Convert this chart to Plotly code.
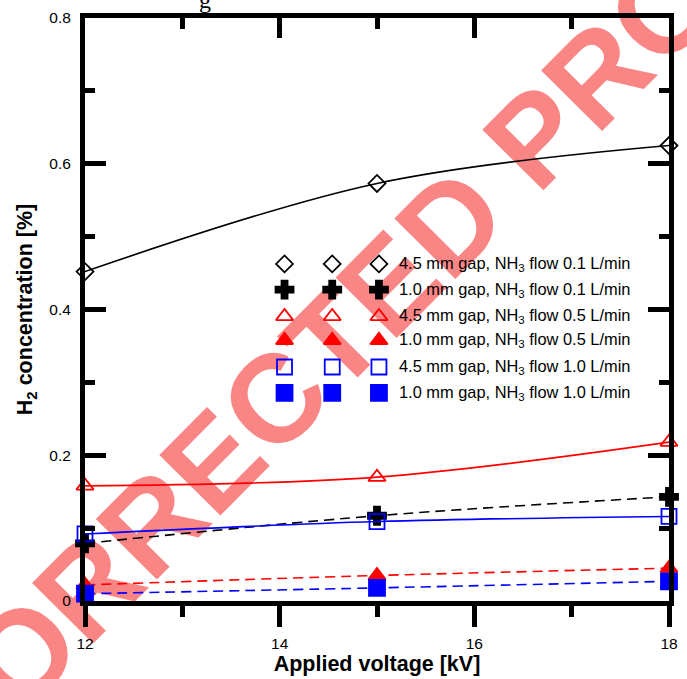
import plotly.graph_objects as go

# ---- data ----
voltage = [12, 15, 18]
h2_45_01 = [0.452, 0.573, 0.625]   # 4.5 mm gap, NH3 0.1 L/min
h2_10_01 = [0.079, 0.117, 0.143]   # 1.0 mm gap, NH3 0.1 L/min
h2_45_05 = [0.158, 0.170, 0.218]   # 4.5 mm gap, NH3 0.5 L/min
h2_10_05 = [0.022, 0.035, 0.045]   # 1.0 mm gap, NH3 0.5 L/min
h2_45_10 = [0.092, 0.109, 0.116]   # 4.5 mm gap, NH3 1.0 L/min
h2_10_10 = [0.010, 0.018, 0.027]   # 1.0 mm gap, NH3 1.0 L/min

labels = [
    "4.5 mm gap, NH<sub>3</sub> flow 0.1 L/min",
    "1.0 mm gap, NH<sub>3</sub> flow 0.1 L/min",
    "4.5 mm gap, NH<sub>3</sub> flow 0.5 L/min",
    "1.0 mm gap, NH<sub>3</sub> flow 0.5 L/min",
    "4.5 mm gap, NH<sub>3</sub> flow 1.0 L/min",
    "1.0 mm gap, NH<sub>3</sub> flow 1.0 L/min",
]
series = [h2_45_01, h2_10_01, h2_45_05, h2_10_05, h2_45_10, h2_10_10]
symbols = ["diamond-open", "cross", "triangle-up-open", "triangle-up", "square-open", "square"]
sizes = [13, 15, 15, 15, 15, 16]
colors = ["#000000", "#000000", "#ff0000", "#ff0000", "#0000ff", "#0000ff"]
dashes = ["solid", "10px,6px", "solid", "10px,6px", "solid", "10px,6px"]

# legend sample positions (data units) and row heights
legend_x = [14.05, 14.54, 15.02]
legend_text_x = 15.21
legend_rows = [0.4626, 0.4272, 0.3905, 0.3578, 0.3211, 0.2857]

FONT = "Liberation Sans, Arial, sans-serif"

fig = go.Figure()

for ys, sym, sz, col, dsh in zip(series, symbols, sizes, colors, dashes):
    fig.add_trace(go.Scatter(
        x=voltage, y=ys, mode="lines+markers",
        line=dict(color=col, width=1.6, dash=dsh, shape="spline", smoothing=1),
        marker=dict(symbol=sym, size=sz, color=col, line=dict(color=col, width=1.8)),
        cliponaxis=False, showlegend=False, hoverinfo="skip"))

# in-plot legend (three samples per row)
for row_y, sym, sz, col, lab in zip(legend_rows, symbols, sizes, colors, labels):
    fig.add_trace(go.Scatter(
        x=legend_x, y=[row_y] * 3, mode="markers",
        marker=dict(symbol=sym, size=sz, color=col, line=dict(color=col, width=1.8)),
        cliponaxis=False, showlegend=False, hoverinfo="skip"))
    fig.add_annotation(x=legend_text_x, y=row_y, xref="x", yref="y", text=lab,
                       showarrow=False, xanchor="left", yanchor="middle",
                       font=dict(family=FONT, size=16.4, color="black"))

# invisible trace for the top axis
fig.add_trace(go.Scatter(x=[12, 18], y=[0, 0], xaxis="x2", yaxis="y", mode="markers",
                         marker=dict(opacity=0), showlegend=False, hoverinfo="skip"))

axis_common = dict(showgrid=False, zeroline=False, showline=True, linecolor="black",
                   linewidth=5, tickcolor="black", tickwidth=4.5,
                   tickfont=dict(family=FONT, size=15.5, color="black"))

wm_x, wm_y, wm_d = 0.477, 0.529, 0.1
fig.update_layout(
    width=687, height=679,
    margin=dict(l=85, r=9, t=15, b=76),
    paper_bgcolor="white", plot_bgcolor="rgba(0,0,0,0)",
    xaxis=dict(range=[12, 18], tickvals=[12, 14, 16, 18], ticks="outside", ticklen=21,
               ticklabelstandoff=3,
               minor=dict(tickvals=[13, 15, 17], ticks="outside", ticklen=11,
                          tickwidth=4.5, tickcolor="black"),
               title=dict(text="<b>Applied voltage [kV]</b>", standoff=3,
                          font=dict(family=FONT, size=21.5, color="black")),
               **axis_common),
    xaxis2=dict(range=[12, 18], overlaying="x", side="top", tickvals=[12, 14, 16, 18],
                ticks="inside", ticklen=20, showticklabels=False,
                minor=dict(tickvals=[13, 15, 17], ticks="inside", ticklen=11,
                           tickwidth=4.5, tickcolor="black"),
                **axis_common),
    yaxis=dict(range=[0, 0.8], tickvals=[0, 0.2, 0.4, 0.6, 0.8], ticks="inside", ticklen=21,
               mirror="ticks", ticklabelstandoff=6,
               minor=dict(tickvals=[0.1, 0.3, 0.5, 0.7], ticks="inside", ticklen=10,
                          tickwidth=4.5, tickcolor="black"),
               title=dict(text="<b>H<sub>2</sub> concentration [%]</b>", standoff=12,
                          font=dict(family=FONT, size=21.5, color="black")),
               **axis_common),
    shapes=[dict(type="line", xref="paper", yref="paper",
                 x0=wm_x - wm_d, y0=wm_y - wm_d * 593 / 588,
                 x1=wm_x + wm_d, y1=wm_y + wm_d * 593 / 588,
                 line=dict(width=0, color="rgba(0,0,0,0)"), layer="below",
                 label=dict(text="<b>CORRECTED PROOF</b>", textposition="middle",
                            yanchor="middle", xanchor="center",
                            font=dict(family=FONT, size=125, color="rgba(245,0,0,0.48)")))],
)

# clipped fragment of caption text at the very top
fig.add_annotation(x=(207 - 85) / 593, y=1.005, xref="paper", yref="paper", text="g",
                   showarrow=False, xanchor="center", yanchor="bottom",
                   font=dict(family="Liberation Serif, Times New Roman, serif", size=24, color="black"))

fig.write_html("out.html")
